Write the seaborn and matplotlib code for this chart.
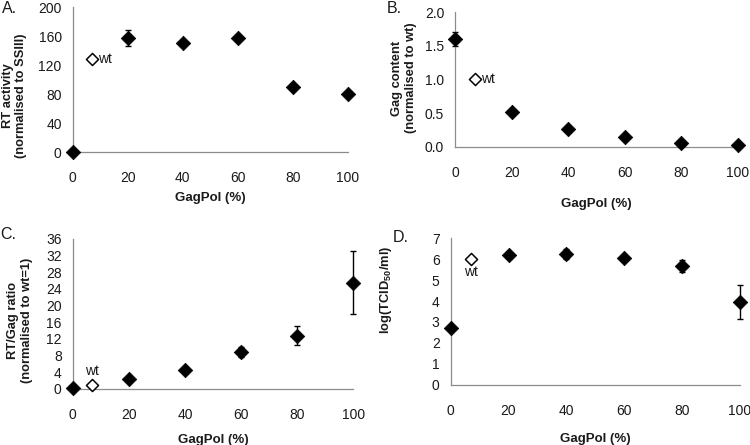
import matplotlib
matplotlib.use("Agg")
import matplotlib.pyplot as plt
import seaborn as sns

# GagPol percentage (x for all panels)
gagpol = [0, 20, 40, 60, 80, 100]
wt_x = 7

# A - RT activity
rt_act = [0, 158, 150, 158, 90, 80]
rt_err = [0, 11, 0, 0, 0, 0]
rt_wt = 128

# B - Gag content
gag = [1.6, 0.52, 0.27, 0.15, 0.06, 0.03]
gag_err = [0.11, 0, 0, 0, 0, 0]
gag_wt = 1.0

# C - RT/Gag ratio
ratio = [0.2, 2.5, 4.5, 8.8, 12.8, 25.5]
ratio_err = [0, 0, 0, 1.2, 2.3, 7.6]
ratio_wt = 1.0

# D - infectivity
tcid = [2.7, 6.17, 6.23, 6.07, 5.67, 3.95]
tcid_err = [0, 0.1, 0.25, 0.08, 0.27, 0.8]
tcid_wt = 6.0

sns.set_style("white")
plt.rcParams['font.family'] = ['Liberation Sans', 'DejaVu Sans']
plt.rcParams['mathtext.default'] = 'regular'

fig = plt.figure(figsize=(7.5, 4.45), dpi=100)
axA = fig.add_axes([0.097, 0.658, 0.367, 0.326])
axB = fig.add_axes([0.607, 0.670, 0.377, 0.303])
axC = fig.add_axes([0.097, 0.126, 0.374, 0.337])
axD = fig.add_axes([0.601, 0.135, 0.385, 0.330])

grey = '#8c8c8c'
txt = '#1a1a1a'


def panel(ax, y, err, wt, ylim, yticks, ytl, ylabel, label_xy, wt_pos, xpad):
    ax.errorbar(gagpol, y, yerr=err, fmt='none', ecolor='black', elinewidth=1,
                capsize=2.5, capthick=1, clip_on=False, zorder=2)
    sns.scatterplot(x=gagpol, y=y, marker='D', s=55, color='black',
                    edgecolor='black', linewidth=0.5, ax=ax, clip_on=False, zorder=3)
    sns.scatterplot(x=[wt_x], y=[wt], marker='D', s=38, color='white',
                    edgecolor='black', linewidth=1.1, ax=ax, clip_on=False, zorder=3)
    if wt_pos == 'right':
        ax.annotate('wt', (wt_x, wt), xytext=(4, 0), textcoords='offset points',
                    ha='left', va='center', fontsize=10, color=txt)
    elif wt_pos == 'above':
        ax.annotate('wt', (wt_x, wt), xytext=(0, 5), textcoords='offset points',
                    ha='center', va='bottom', fontsize=10, color=txt)
    else:
        ax.annotate('wt', (wt_x, wt), xytext=(0, -4), textcoords='offset points',
                    ha='center', va='top', fontsize=10, color=txt)
    ax.set_xlim(0, 100)
    ax.set_ylim(*ylim)
    ax.set_xticks(gagpol)
    ax.set_xticklabels([str(v) for v in gagpol], fontsize=10, color=txt)
    ax.set_yticks(yticks)
    ax.set_yticklabels(ytl, fontsize=10, color=txt)
    ax.tick_params(axis='x', direction='inout', length=5, width=0.8, color=grey, pad=11)
    ax.tick_params(axis='y', direction='out', length=4, width=0.8, color=grey, pad=4)
    sns.despine(ax=ax)
    for s in ['left', 'bottom']:
        ax.spines[s].set_color(grey)
        ax.spines[s].set_linewidth(0.9)
    ax.set_xlabel('GagPol (%)', fontsize=9.5, fontweight='bold', color=txt, labelpad=xpad)
    ax.set_ylabel(ylabel, fontsize=9.3, fontweight='bold', color=txt)
    ax.yaxis.set_label_coords(*label_xy)


panel(axA, rt_act, rt_err, rt_wt, (0, 200), [0, 40, 80, 120, 160, 200],
      ['0', '40', '80', '120', '160', '200'],
      'RT activity\n(normalised to SSIII)', (-0.165, 0.39), 'right', 5)
panel(axB, gag, gag_err, gag_wt, (0, 2.0), [0, 0.5, 1.0, 1.5, 2.0],
      ['0.0', '0.5', '1.0', '1.5', '2.0'],
      'Gag content\n(normalised to wt)', (-0.135, 0.51), 'right', 13)
panel(axC, ratio, ratio_err, ratio_wt, (0, 36), list(range(0, 37, 4)),
      [str(v) for v in range(0, 37, 4)],
      'RT/Gag ratio\n(normalised to wt=1)', (-0.143, 0.46), 'above', 9)
panel(axD, tcid, tcid_err, tcid_wt, (0, 7), list(range(0, 8)),
      [str(v) for v in range(0, 8)],
      r'log(TCID$_{50}$/ml)', (-0.195, 0.645), 'below', 11)

# panel letters
for letter, fx, fy in [('A.', 0.003, 0.98), ('B.', 0.516, 0.982),
                       ('C.', 0.0, 0.472), ('D.', 0.523, 0.467)]:
    fig.text(fx, fy, letter, fontsize=11.5, color=txt, ha='left', va='center')

fig.savefig('out.png', dpi=100)
